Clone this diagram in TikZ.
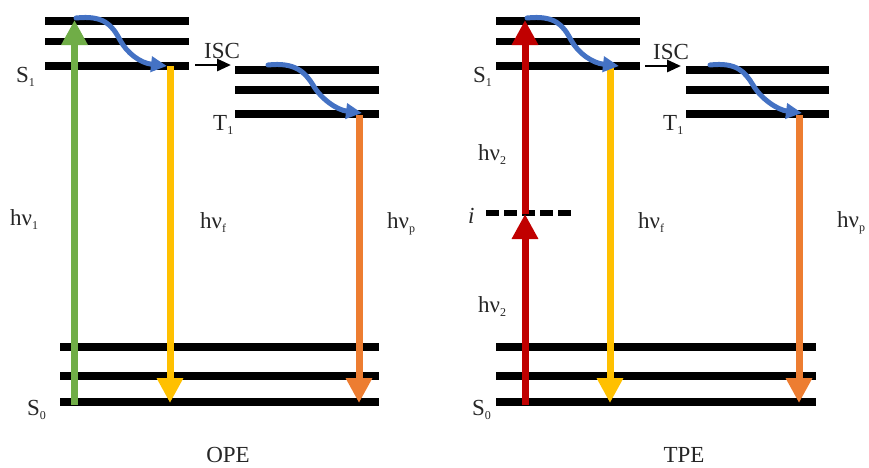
\documentclass[tikz,border=0pt]{standalone}
\usepackage{fontspec}
\setmainfont{Liberation Serif}
\usetikzlibrary{arrows.meta}

\definecolor{absgreen}{HTML}{70AD47}
\definecolor{absred}{HTML}{C00000}
\definecolor{fluoyellow}{HTML}{FFC000}
\definecolor{phosorange}{HTML}{ED7D31}
\definecolor{relaxblue}{HTML}{4472C4}
\definecolor{labelgray}{HTML}{262626}

\newcommand\lsub[1]{\raisebox{-4pt}{\fontsize{12}{12}\selectfont #1}}

\tikzset{
  level/.style={line width=7.5pt, black},
  virtual/.style={line width=6.5pt, black, dash pattern=on 13pt off 5pt},
  photon/.style={line width=7pt, -{Triangle[width=25pt,length=25pt]}},
  relax/.style={draw=relaxblue, line width=5pt, line cap=round,
                -{Triangle[width=15pt,length=16pt]}},
  isc/.style={line width=2.8pt, black, -{Triangle[width=12pt,length=14pt]}},
  lbl/.style={font=\fontsize{23}{26}\selectfont, text=labelgray, inner sep=0pt},
}

\begin{document}
\begin{tikzpicture}[x=1pt,y=-1pt]
\useasboundingbox (0,0) rectangle (869,467);

% ---------------- one-photon excitation ----------------
% singlet S1 manifold
\draw[level] (45,21) -- (189,21);
\draw[level] (45,41.5) -- (189,41.5);
\draw[level] (45,66) -- (189,66);
% triplet T1 manifold
\draw[level] (235,70) -- (379,70);
\draw[level] (235,90) -- (379,90);
\draw[level] (235,114) -- (379,114);
% ground state S0 manifold
\draw[level] (60,347) -- (379,347);
\draw[level] (60,376) -- (379,376);
\draw[level] (60,402) -- (379,402);

\coordinate (gA) at (74.5,405);
\coordinate (gB) at (74.5,20);
\coordinate (fA) at (170,66);
\coordinate (fB) at (170,403);
\coordinate (pA) at (359,115);
\coordinate (pB) at (359,403);
\coordinate (rA) at (76,18);
\coordinate (rB) at (167,66);
\coordinate (tA) at (268,65);
\coordinate (tB) at (362,113);
\coordinate (iA) at (195,65);
\coordinate (iB) at (231,65);

\draw[photon, absgreen] (gA) -- (gB);
\draw[photon, fluoyellow] (fA) -- (fB);
\draw[photon, phosorange] (pA) -- (pB);
\draw[relax] (rA) .. controls (104,15) and (112,25) .. (120,40)
                 .. controls (127,53) and (140,63) .. (rB);
\draw[relax] (tA) .. controls (295,62) and (305,72) .. (313,85)
                 .. controls (321,99) and (337,110) .. (tB);
\draw[isc] (iA) -- (iB);

\node[lbl, anchor=base west] (s1a) at (16,82) {S\lsub{1}};
\node[lbl, anchor=base west] (t1a) at (213,130) {T\lsub{1}};
\node[lbl, anchor=base west] (s0a) at (27,415) {S\lsub{0}};
\node[lbl, anchor=base west] (isca) at (204,58) {ISC};
\node[lbl, anchor=base west] (hv1) at (10,225) {hν\lsub{1}};
\node[lbl, anchor=base west] (hvfa) at (200,228) {hν\lsub{f}};
\node[lbl, anchor=base west] (hvpa) at (387,228) {hν\lsub{p}};
\node[lbl, anchor=base] (ope) at (228,462) {OPE};

% ---------------- two-photon excitation ----------------
\draw[level] (496,21) -- (640,21);
\draw[level] (496,41.5) -- (640,41.5);
\draw[level] (496,66) -- (640,66);
\draw[level] (686,70) -- (829,70);
\draw[level] (686,90) -- (829,90);
\draw[level] (686,114) -- (829,114);
\draw[level] (496,347) -- (816,347);
\draw[level] (496,376) -- (816,376);
\draw[level] (496,402) -- (816,402);
% virtual intermediate state
\draw[virtual] (486,213) -- (572,213);

\coordinate (aA) at (525,405);
\coordinate (aM) at (525,214);
\coordinate (aB) at (525,20);
\coordinate (f2A) at (610,66);
\coordinate (f2B) at (610,403);
\coordinate (p2A) at (799,115);
\coordinate (p2B) at (799,403);
\coordinate (r2A) at (527,18);
\coordinate (r2B) at (619,66);
\coordinate (t2A) at (710,65);
\coordinate (t2B) at (802,113);
\coordinate (i2A) at (645,66);
\coordinate (i2B) at (681,66);

\draw[photon, absred] (aA) -- (aM);
\draw[photon, absred] (aM) -- (aB);
\draw[photon, fluoyellow] (f2A) -- (f2B);
\draw[photon, phosorange] (p2A) -- (p2B);
\draw[relax] (r2A) .. controls (555,15) and (563,25) .. (571,40)
                   .. controls (578,53) and (592,63) .. (r2B);
\draw[relax] (t2A) .. controls (737,62) and (745,72) .. (753,85)
                   .. controls (761,99) and (778,110) .. (t2B);
\draw[isc] (i2A) -- (i2B);

\node[lbl, anchor=base west] (s1b) at (473,82) {S\lsub{1}};
\node[lbl, anchor=base west] (t1b) at (663,130) {T\lsub{1}};
\node[lbl, anchor=base west] (s0b) at (472,415) {S\lsub{0}};
\node[lbl, anchor=base west] (iscb) at (653,59) {ISC};
\node[lbl, anchor=base west] (hv2u) at (478,160) {hν\lsub{2}};
\node[lbl, anchor=base west] (hv2l) at (478,312) {hν\lsub{2}};
\node[lbl, anchor=base west] (ivs) at (468,223) {\textit{i}};
\node[lbl, anchor=base west] (hvfb) at (638,228) {hν\lsub{f}};
\node[lbl, anchor=base west] (hvpb) at (837,227) {hν\lsub{p}};
\node[lbl, anchor=base] (tpe) at (684,462) {TPE};
\end{tikzpicture}
\end{document}
